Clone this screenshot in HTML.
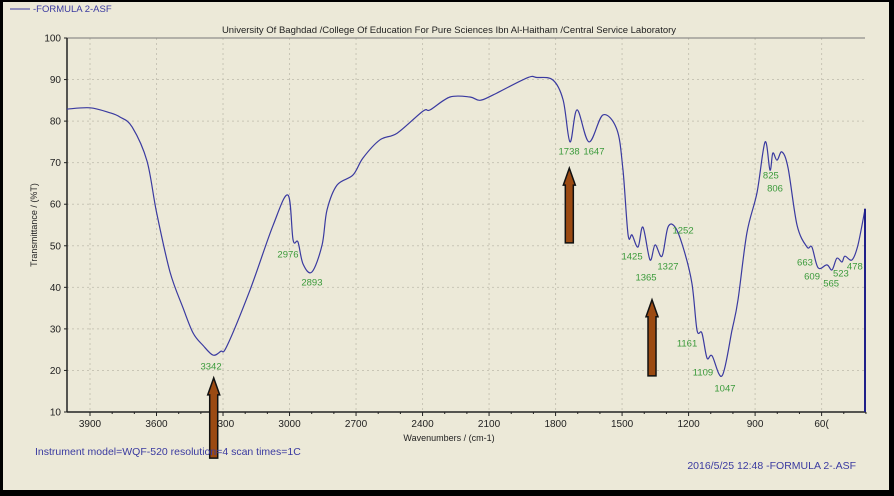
<!DOCTYPE html>
<html><head><meta charset="utf-8"><style>
html,body{margin:0;padding:0;background:#000;}
#wrap{position:relative;width:894px;height:496px;background:#000;overflow:hidden;font-family:"Liberation Sans",sans-serif;}
#panel{position:absolute;left:3px;top:2px;width:886px;height:488px;background:#ece9d8;}
svg{position:absolute;left:0;top:0;}
</style></head><body>
<div id="wrap">
<div id="panel"></div>
<svg id="chart" width="894" height="496"></svg>
</div>
<script>
const wavenumbers=[4004,3900,3810,3765,3710,3643,3600,3539,3480,3435,3390,3345,3310,3282,3178,3075,3007,2984,2962,2939,2899,2853,2831,2786,2714,2669,2592,2515,2398,2366,2276,2186,2141,2082,1929,1884,1812,1766,1735,1703,1649,1586,1523,1496,1473,1455,1428,1406,1374,1351,1320,1293,1261,1225,1185,1162,1140,1117,1094,1049,1004,977,937,891,855,833,820,801,779,751,711,666,644,616,576,553,531,508,495,463,436,404];
const transmittance=[82.9,83.2,82,81,78.6,70.4,58.1,43.7,35,29,26,23.7,24.6,25.9,39.4,54.8,62.2,51.4,50.9,45.6,43.7,50.2,58.6,64.6,67,71.1,75.5,77.1,82.4,82.7,85.8,85.8,85,86.3,90.4,90.5,89.9,85.1,75,82.7,75,81.5,77.9,68.2,52.6,52.6,49.7,54.5,46.6,50.2,47.5,54.5,54.5,49.7,41,29.7,29,23,23.5,18.7,29.7,37,53.1,62.9,75,68.2,72.3,70.6,72.6,68.7,55,49.7,49.7,44.7,45.4,44.2,47,46.1,47.5,46.6,50.2,58.9];
const peakLabels=["3342","2976","2893","1738","1647","1425","1365","1327","1252","1161","1109","1047","825","806","663","609","565","523","478"];
const peakLabelW=[3354,3007,2899,1739,1627,1455,1392,1293,1225,1207,1135,1036,829,810,675,643,557,513,450];
const peakLabelT=[21.1,48,41.3,72.8,72.8,47.5,42.5,45.1,53.8,26.6,19.6,15.8,67,63.9,46.1,42.7,41,43.5,45.1];
const xTicks=[3900,3600,3300,3000,2700,2400,2100,1800,1500,1200,900,600];
const xTickLabels=["3900","3600","3300","3000","2700","2400","2100","1800","1500","1200","900","60("];
const yTicks=[10,20,30,40,50,60,70,80,90,100];
const arrowW=[3342,1738,1365];
const arrowTipT=[18.2,68.7,37];
const arrowTailT=[-1.1,50.7,18.7];

const NS="http://www.w3.org/2000/svg";
const svg=document.getElementById('chart');
const L=67,R=865,T=38,B=412;
function xs(w){return 90+(3900-w)*0.2217;}
function ys(t){return T+(100-t)*(B-T)/90;}
function mk(tag,attrs,parent){const e=document.createElementNS(NS,tag);for(const k in attrs)e.setAttribute(k,attrs[k]);(parent||svg).appendChild(e);return e;}
function txt(s,x,y,attrs){const e=mk('text',Object.assign({x:x,y:y},attrs));e.textContent=s;return e;}

xTicks.forEach(w=>{const g=mk('line',{x1:xs(w),x2:xs(w),y1:T,y2:B,stroke:'#c8c5b5','stroke-dasharray':'2,3'});

});
yTicks.forEach(t=>{const g=mk('line',{x1:L,x2:R,y1:ys(t),y2:ys(t),stroke:'#c8c5b5','stroke-dasharray':'2,3'});

});

let f=mk('line',{x1:L,x2:R,y1:T,y2:T,stroke:'#777','stroke-width':1});


f=mk('line',{x1:L,x2:L,y1:T,y2:B,stroke:'#222','stroke-width':1.5});


f=mk('line',{x1:L,x2:R+1,y1:B,y2:B,stroke:'#222','stroke-width':1.5});



for(let w=3900;w>=400;w-=100){const major=xTicks.indexOf(w)>=0;const tk=mk('line',{x1:xs(w),x2:xs(w),y1:B,y2:B+(major?4:2),stroke:'#222'});

}
xTicks.forEach((w,i)=>{const e=txt(xTickLabels[i],xs(w),427,{'font-size':10,fill:'#222','text-anchor':'middle'});

});
yTicks.forEach(t=>{const tk=mk('line',{x1:L-3,x2:L,y1:ys(t),y2:ys(t),stroke:'#222'});


const e=txt(String(t),61,ys(t)+3.5,{'font-size':10,fill:'#222','text-anchor':'end'});

});

// smoothed series (Catmull-Rom)
const P=wavenumbers.map((w,i)=>[xs(w),ys(transmittance[i])]);
let d='M'+P[0][0].toFixed(1)+','+P[0][1].toFixed(1);
for(let i=0;i<P.length-1;i++){const p0=P[Math.max(0,i-1)],p1=P[i],p2=P[i+1],p3=P[Math.min(P.length-1,i+2)];
const c1=[p1[0]+(p2[0]-p0[0])/6,p1[1]+(p2[1]-p0[1])/6],c2=[p2[0]-(p3[0]-p1[0])/6,p2[1]-(p3[1]-p1[1])/6];
d+='C'+c1.map(v=>v.toFixed(1)).join(',')+' '+c2.map(v=>v.toFixed(1)).join(',')+' '+p2.map(v=>v.toFixed(1)).join(',');}
const p=mk('path',{d:d,fill:'none',stroke:'#3a3aa0','stroke-width':1.2,'stroke-linejoin':'round'});


f=mk('line',{x1:R,x2:R,y1:ys(transmittance[transmittance.length-1]),y2:B,stroke:'#20208a','stroke-width':2});



peakLabels.forEach((s,i)=>{const e=txt(s,xs(peakLabelW[i]),ys(peakLabelT[i])+3.5,{'font-size':9.5,fill:'#3a9a3a','text-anchor':'middle'});

});

arrowW.forEach((w,i)=>{const x=xs(w),y1=ys(arrowTipT[i]),y2=ys(arrowTailT[i]);
const pts=[[x,y1],[x+6,y1+17],[x+4,y1+17],[x+4,y2],[x-4,y2],[x-4,y1+17],[x-6,y1+17]].map(a=>a.join(',')).join(' ');
const a=mk('polygon',{points:pts,fill:'#9b4a12',stroke:'#111','stroke-width':1.5,'stroke-linejoin':'miter'});

});

let e=mk('line',{x1:10,x2:30,y1:9,y2:9,stroke:'#3a3aa0','stroke-width':1});


e=txt('-FORMULA 2-ASF',33,12,{'font-size':9.5,fill:'#3a3aa0'});


e=txt('University Of Baghdad /College Of Education For Pure Sciences Ibn Al-Haitham /Central Service Laboratory',449,33,{'font-size':9.5,fill:'#222','text-anchor':'middle'});


e=txt('Transmittance / (%T)',0,0,{'font-size':9,fill:'#222','text-anchor':'middle',transform:'translate(37,225) rotate(-90)'});


e=txt('Wavenumbers / (cm-1)',449,441,{'font-size':9,fill:'#222','text-anchor':'middle'});


e=txt('Instrument model=WQF-520 resolution=4 scan times=1C',35,455,{'font-size':10.5,fill:'#3a3aa0'});


e=txt('2016/5/25 12:48 -FORMULA 2-.ASF',856,469,{'font-size':10.5,fill:'#3a3aa0','text-anchor':'end'});


</script>
</body></html>
